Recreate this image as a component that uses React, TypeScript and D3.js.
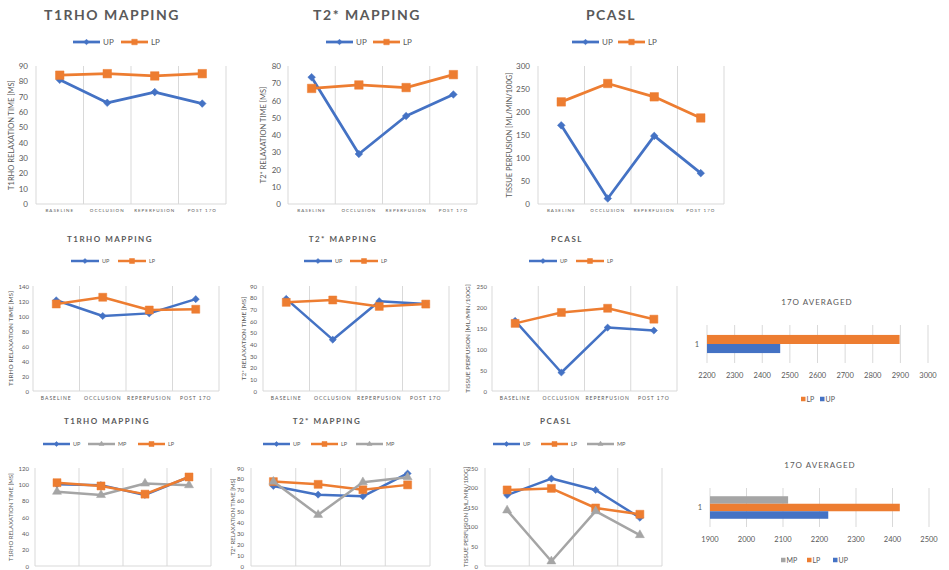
import React from "react";
import * as d3 from "d3";

// ---------- DATA ----------
const categories = ["BASELINE", "OCCLUSION", "REPERFUSION", "POST 17O"];

// Row 1
const t1rhoA_UP = [81, 66, 73, 65.5];
const t1rhoA_LP = [84, 85, 83.5, 85];
const t2starA_UP = [73.5, 29, 51, 63.5];
const t2starA_LP = [67, 69, 67.5, 75];
const pcaslA_UP = [171, 12, 148, 67];
const pcaslA_LP = [222, 262, 233, 187];

// Row 2
const t1rhoB_UP = [121, 100, 103.5, 122.5];
const t1rhoB_LP = [116, 125, 108, 109];
const t2starB_UP = [79, 44, 77, 74.5];
const t2starB_LP = [76, 78, 72.5, 74.5];
const pcaslB_UP = [167, 44, 151, 144];
const pcaslB_LP = [161, 187, 197, 171];
const o17B_series = ["LP", "UP"];
const o17B_values = [2897, 2465];
const o17B_ticks = [2200, 2300, 2400, 2500, 2600, 2700, 2800, 2900, 3000];

// Row 3
const t1rhoC_UP = [100, 99, 87, 109];
const t1rhoC_MP = [91, 87, 101, 99];
const t1rhoC_LP = [102, 98, 88, 109];
const t2starC_UP = [73.5, 65.5, 64, 85];
const t2starC_LP = [77.5, 75, 70, 74.5];
const t2starC_MP = [77.5, 47, 77, 81.5];
const pcaslC_UP = [181, 223, 194, 123];
const pcaslC_LP = [194, 198, 148, 132];
const pcaslC_MP = [142, 12, 140, 79];
const o17C_series = ["MP", "LP", "UP"];
const o17C_values = [2114, 2420, 2224];
const o17C_ticks = [1900, 2000, 2100, 2200, 2300, 2400, 2500];

// ---------- STYLE ----------
const BLUE = "#4472C4";
const ORANGE = "#ED7D31";
const GRAY = "#A5A5A5";
const TEXT = "#595959";
const GRID = "#D9D9D9";
const FONT = "Lato, 'Open Sans', sans-serif";

const colorOf: Record<string, string> = { UP: BLUE, LP: ORANGE, MP: GRAY };
const markerOf: Record<string, string> = { UP: "diamond", LP: "square", MP: "triangle" };

function markerPath(kind: string, s: number) {
  if (kind === "triangle") return d3.symbol(d3.symbolTriangle, 0.433 * s * s)() as string;
  return d3.symbol(d3.symbolSquare, s * s)() as string;
}

function Marker({ kind, x, y, s, color }: any) {
  const size = kind === "diamond" ? s * 0.72 : s;
  const rot = kind === "diamond" ? 45 : 0;
  return (
    <path
      d={markerPath(kind, size)}
      transform={`translate(${x},${y}) rotate(${rot})`}
      fill={color}
      stroke={color}
      strokeWidth={0.5}
    />
  );
}

type S = { name: string; values: number[] };

function LineChart(p: any) {
  const x = d3.scaleBand<string>().domain(categories).range([p.l, p.r]);
  const y = d3.scaleLinear().domain([0, p.yMax]).range([p.b, p.t]);
  const ticks = d3.range(0, p.yMax + p.yStep / 2, p.yStep);
  const cx = (i: number) => (x(categories[i]) as number) + x.bandwidth() / 2;
  const line = d3
    .line<number>()
    .x((_, i) => cx(i))
    .y((d) => y(d));
  const bounds = categories.map((c) => x(c) as number).concat([p.r]);
  const series: S[] = p.series;
  return (
    <g fontFamily={FONT}>
      <text
        x={p.titleX}
        y={p.titleY}
        textAnchor="middle"
        dominantBaseline="central"
        fontSize={p.titleSize}
        fontWeight="bold"
        letterSpacing={p.titleSpacing}
        fill={TEXT}
      >
        {p.title}
      </text>
      {series.map((s, i) => {
        const x0 = p.legendXs[i];
        return (
          <g key={"lg" + s.name}>
            <line x1={x0} x2={x0 + p.legLen} y1={p.legendY} y2={p.legendY} stroke={colorOf[s.name]} strokeWidth={p.lineW} />
            <Marker kind={markerOf[s.name]} x={x0 + p.legLen / 2} y={p.legendY} s={p.legMarker} color={colorOf[s.name]} />
            <text x={x0 + p.legLen + 3} y={p.legendY} dominantBaseline="central" fontSize={p.legFont} fill={TEXT}>
              {s.name}
            </text>
          </g>
        );
      })}
      {bounds.map((bx, i) => (
        <line key={"g" + i} x1={bx} x2={bx} y1={p.t} y2={p.b} stroke={GRID} strokeWidth={1} />
      ))}
      <line x1={p.l} x2={p.r} y1={p.b} y2={p.b} stroke={GRID} strokeWidth={1} />
      {ticks.map((t) => (
        <text key={"t" + t} x={p.tickRight} y={y(t)} textAnchor="end" dominantBaseline="central" fontSize={p.tickFont} fill={TEXT}>
          {t}
        </text>
      ))}
      <text
        transform={`translate(${p.axisTitleX},${(p.t + p.b) / 2}) rotate(-90)`}
        textAnchor="middle"
        dominantBaseline="central"
        fontSize={p.axisFont}
        fill={TEXT}
      >
        {p.axisTitle}
      </text>
      {p.showCats &&
        categories.map((c, i) => (
          <text key={"c" + c} x={cx(i)} y={p.catY} textAnchor="middle" dominantBaseline="central" fontSize={p.catFont} letterSpacing={p.catSpacing} fill={TEXT}>
            {c}
          </text>
        ))}
      {series.map((s) => (
        <g key={"s" + s.name}>
          <path d={line(s.values) as string} fill="none" stroke={colorOf[s.name]} strokeWidth={p.lineW} strokeLinejoin="round" />
          {s.values.map((v, i) => (
            <Marker
              key={i}
              kind={markerOf[s.name]}
              x={cx(i)}
              y={y(v)}
              s={markerOf[s.name] === "square" ? p.sq : markerOf[s.name] === "triangle" ? p.tri : p.dia}
              color={colorOf[s.name]}
            />
          ))}
        </g>
      ))}
    </g>
  );
}

function BarChart(p: any) {
  const x = d3.scaleLinear().domain([p.ticks[0], p.ticks[p.ticks.length - 1]]).range([p.l, p.r]);
  const n = p.names.length;
  const bandH = p.b - p.t;
  const barH = bandH / (n + 2.19);
  const gTop = p.t + (bandH - barH * n) / 2;
  const yb = d3.scaleBand<string>().domain(p.names).range([gTop, gTop + barH * n]);
  return (
    <g fontFamily={FONT}>
      <text x={p.titleX} y={p.titleY} textAnchor="middle" dominantBaseline="central" fontSize={p.titleSize} letterSpacing={1} fill={TEXT}>
        {p.title}
      </text>
      {p.ticks.map((t: number) => (
        <g key={t}>
          <line x1={x(t)} x2={x(t)} y1={p.t} y2={p.b} stroke={GRID} strokeWidth={1} />
          <text x={x(t)} y={p.tickY} textAnchor="middle" dominantBaseline="central" fontSize={p.tickFont} fill={TEXT}>
            {t}
          </text>
        </g>
      ))}
      {p.names.map((nm: string, i: number) => (
        <rect key={nm} x={x(p.ticks[0])} y={yb(nm) as number} width={x(p.values[i]) - x(p.ticks[0])} height={yb.bandwidth()} fill={colorOf[nm]} />
      ))}
      <text x={p.catX} y={(p.t + p.b) / 2} textAnchor="middle" dominantBaseline="central" fontSize={p.tickFont} fill={TEXT}>
        1
      </text>
      {p.names.map((nm: string, i: number) => (
        <g key={"l" + nm}>
          <rect x={p.legendXs[i]} y={p.legendY - 2.25} width={4.5} height={4.5} fill={colorOf[nm]} />
          <text x={p.legendXs[i] + 5.5} y={p.legendY} dominantBaseline="central" fontSize={p.legFont} fill={TEXT}>
            {nm}
          </text>
        </g>
      ))}
    </g>
  );
}

const rowA = {
  t: 66, b: 204, titleY: 14, titleSize: 14, titleSpacing: 1.5, legendY: 42, legLen: 27, legMarker: 5.5,
  legFont: 8, tickFont: 8, axisFont: 7.5, catY: 210, catFont: 4.5, catSpacing: 1, lineW: 2.75, sq: 8.5, dia: 7.5, tri: 9,
  showCats: true,
};
const rowB = {
  t: 286, b: 391, titleY: 239, titleSize: 8, titleSpacing: 1.5, legendY: 261, legLen: 28, legMarker: 5,
  legFont: 5.5, tickFont: 6, axisFont: 6.5, catY: 398, catFont: 5, catSpacing: 1, lineW: 2.5, sq: 8, dia: 7, tri: 9,
  showCats: true,
};
const rowC = {
  t: 468, b: 566, titleY: 421, titleSize: 8, titleSpacing: 1.5, legendY: 444, legLen: 27, legMarker: 5,
  legFont: 5.5, tickFont: 6, axisFont: 6, catY: 577, catFont: 5, catSpacing: 1, lineW: 2.5, sq: 8, dia: 7, tri: 9,
  showCats: false,
};

export default function App() {
  return (
    <svg width={949} height={570} style={{ position: "absolute", left: 0, top: 0, background: "#fff" }}>
      <rect width={949} height={570} fill="#fff" />
      {/* Row 1 */}
      <LineChart {...rowA} l={36} r={226} yMax={90} yStep={10} title="T1RHO MAPPING" titleX={112} legendXs={[73, 121]}
        tickRight={28} axisTitle="T1RHO RELAXATION TIME [MS]" axisTitleX={11}
        series={[{ name: "UP", values: t1rhoA_UP }, { name: "LP", values: t1rhoA_LP }]} />
      <LineChart {...rowA} l={288} r={477} yMax={80} yStep={10} title="T2* MAPPING" titleX={367} legendXs={[326, 373]}
        tickRight={281} axisTitle="T2* RELAXATION TIME [MS]" axisTitleX={263}
        series={[{ name: "UP", values: t2starA_UP }, { name: "LP", values: t2starA_LP }]} />
      <LineChart {...rowA} l={538} r={724} yMax={300} yStep={50} title="PCASL" titleX={611} legendXs={[572, 618]}
        tickRight={530} axisTitle="TISSUE PERFUSION [ML/MIN/100G]" axisTitleX={509}
        series={[{ name: "UP", values: pcaslA_UP }, { name: "LP", values: pcaslA_LP }]} />

      {/* Row 2 */}
      <LineChart {...rowB} l={33} r={219} yMax={140} yStep={20} title="T1RHO MAPPING" titleX={110} legendXs={[71, 118]}
        tickRight={29} axisTitle="T1RHO RELAXATION TIME [MS]" axisTitleX={10}
        series={[{ name: "UP", values: t1rhoB_UP }, { name: "LP", values: t1rhoB_LP }]} />
      <LineChart {...rowB} l={263} r={449} yMax={90} yStep={10} title="T2* MAPPING" titleX={343} legendXs={[304, 350]}
        tickRight={257} axisTitle="T2* RELAXATION TIME [MS]" axisTitleX={243}
        series={[{ name: "UP", values: t2starB_UP }, { name: "LP", values: t2starB_LP }]} />
      <LineChart {...rowB} l={492} r={677} yMax={250} yStep={50} title="PCASL" titleX={567} legendXs={[529, 576]}
        tickRight={487} axisTitle="TISSUE PERFUSION [ML/MIN/100G]" axisTitleX={467}
        series={[{ name: "UP", values: pcaslB_UP }, { name: "LP", values: pcaslB_LP }]} />
      <BarChart l={707} r={928} t={325} b={363} ticks={o17B_ticks} names={o17B_series} values={o17B_values}
        title="17O AVERAGED" titleX={817} titleY={302} titleSize={8} tickY={375} tickFont={7.5} catX={697}
        legendY={399} legendXs={[801, 820]} legFont={7} />

      {/* Row 3 */}
      <LineChart {...rowC} l={35} r={211} yMax={120} yStep={20} title="T1RHO MAPPING" titleX={107} legendXs={[43, 88, 138]}
        tickRight={29} axisTitle="T1RHO RELAXATION TIME [MS]" axisTitleX={10}
        series={[{ name: "UP", values: t1rhoC_UP }, { name: "MP", values: t1rhoC_MP }, { name: "LP", values: t1rhoC_LP }]} />
      <LineChart {...rowC} l={251} r={430} yMax={90} yStep={10} title="T2* MAPPING" titleX={327} legendXs={[263, 311, 356]}
        tickRight={244} axisTitle="T2* RELAXATION TIME [MS]" axisTitleX={232}
        series={[{ name: "UP", values: t2starC_UP }, { name: "LP", values: t2starC_LP }, { name: "MP", values: t2starC_MP }]} />
      <LineChart {...rowC} l={485} r={662} yMax={250} yStep={50} title="PCASL" titleX={556} legendXs={[493, 541, 587]}
        tickRight={478} axisTitle="TISSUE PERFUSION [ML/MIN/100G]" axisTitleX={465}
        series={[{ name: "UP", values: pcaslC_UP }, { name: "LP", values: pcaslC_LP }, { name: "MP", values: pcaslC_MP }]} />
      <BarChart l={710} r={929} t={488} b={527} ticks={o17C_ticks} names={o17C_series} values={o17C_values}
        title="17O AVERAGED" titleX={820} titleY={465} titleSize={8} tickY={539} tickFont={7.5} catX={700}
        legendY={560} legendXs={[781, 807, 833]} legFont={7} />
    </svg>
  );
}
